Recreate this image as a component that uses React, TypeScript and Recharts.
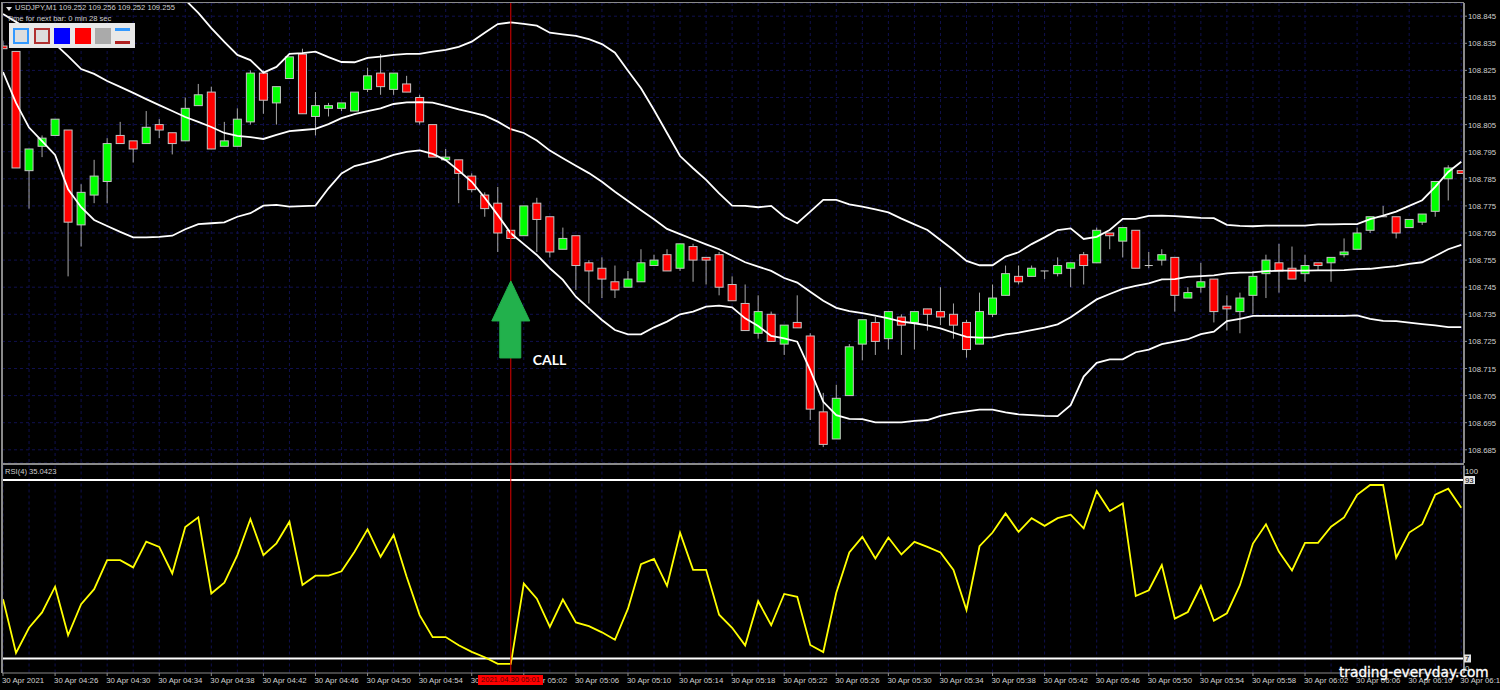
import {
  Bar,
  CartesianGrid,
  ComposedChart,
  Line,
  ReferenceDot,
  ReferenceLine,
  XAxis,
  YAxis,
} from "recharts";

// all prices are in thousandths above 108, so 834 means 108.834
const opens = [
  834, 832, 788, 797, 801, 803, 768, 779, 784, 801,
  799, 798, 805, 802, 799, 812, 817, 797, 797, 806,
  824, 813, 822, 831, 808, 811, 811, 810, 818, 824,
  818, 820, 815, 805, 792, 792, 786, 779, 776, 766,
  764, 776, 771, 759, 764, 754, 752, 747, 745, 747,
  753, 757, 752, 760, 756, 757, 746, 739, 728, 735,
  724, 732, 727, 699, 689, 705, 724, 732, 726, 734,
  732, 737, 736, 735, 732, 724, 735, 742, 749, 749,
  751, 750, 752, 757, 754, 765, 762, 766, 753, 755,
  756, 741, 745, 748, 738, 736, 742, 750, 754, 752,
  750, 754, 754, 757, 759, 766, 771, 771, 767, 769,
  773, 785, 788,
];
const closes = [
  833, 789, 796, 800, 807, 769, 780, 786, 798, 798,
  796, 804, 803, 798, 811, 816, 796, 799, 807, 824,
  814, 819, 830, 809, 812, 812, 813, 817, 823, 819,
  824, 817, 806, 793, 793, 787, 781, 774, 765, 763,
  775, 770, 758, 763, 753, 751, 748, 744, 748, 754,
  755, 751, 761, 755, 755, 745, 740, 729, 736, 725,
  731, 730, 700, 687, 704, 723, 733, 725, 736, 731,
  736, 735, 734, 731, 722, 736, 741, 750, 747, 752,
  751, 753, 754, 753, 766, 764, 767, 752, 753, 757,
  742, 743, 747, 736, 737, 741, 749, 755, 751, 748,
  753, 753, 756, 758, 765, 771, 771, 765, 770, 772,
  784, 789, 787,
];
const highs = [
  836, 832, 796, 801, 807, 803, 783, 792, 800, 806,
  799, 810, 807, 802, 815, 820, 819, 806, 811, 825,
  825, 819, 830, 833, 817, 813, 813, 817, 826, 831,
  824, 823, 816, 805, 796, 792, 787, 780, 782, 766,
  775, 778, 771, 767, 764, 755, 756, 753, 751, 759,
  757, 759, 761, 761, 756, 758, 749, 746, 742, 736,
  731, 742, 728, 706, 709, 724, 733, 734, 736, 735,
  736, 737, 745, 739, 733, 743, 746, 753, 753, 753,
  751, 756, 754, 758, 767, 765, 767, 766, 758, 759,
  756, 745, 754, 748, 742, 743, 751, 757, 761, 760,
  757, 754, 756, 763, 767, 771, 775, 771, 770, 772,
  784, 790, 788,
];
const lows = [
  833, 789, 774, 793, 801, 749, 760, 776, 776, 798,
  791, 798, 800, 794, 799, 812, 796, 797, 797, 805,
  809, 805, 822, 809, 801, 808, 810, 810, 817, 816,
  816, 817, 805, 793, 792, 776, 780, 771, 758, 763,
  764, 758, 756, 759, 744, 739, 741, 741, 745, 747,
  753, 751, 751, 747, 746, 742, 740, 729, 726, 725,
  720, 730, 696, 686, 689, 705, 718, 720, 722, 720,
  722, 729, 731, 726, 719, 724, 734, 742, 746, 749,
  748, 749, 745, 746, 754, 759, 756, 752, 752, 753,
  736, 741, 743, 732, 729, 728, 735, 741, 743, 748,
  747, 751, 747, 756, 759, 765, 771, 763, 767, 768,
  771, 777, 787,
];
// the upper band leaves the top of the pane before bar 14
const bandUpper = [
  null, null, null, null, null, null, null, null, null, null,
  null, null, null, null, 851, 846.2, 840.6, 835.5, 830.7, 828.8,
  824.2, 826.3, 831.1, 831.4, 831.9, 829.9, 828.1, 828, 829.6, 830.1,
  830.7, 831.1, 831.1, 831.9, 832.6, 833.7, 835.6, 838.9, 842.1, 842.7,
  842.2, 841.5, 838.9, 838.3, 837.7, 836.5, 834.7, 831.5, 824.9, 818.4,
  810.4, 801.9, 793.4, 788.9, 784.6, 779.6, 775.1, 775, 774.5, 775,
  771, 768.6, 772.9, 777.2, 777.2, 775.6, 774.7, 773.7, 772.6, 770.3,
  768.2, 766.1, 762.4, 758.7, 754.7, 753.1, 753.1, 756.3, 757.9, 760.9,
  763.4, 766.1, 766.7, 762.8, 763.6, 766.1, 770.2, 770.2, 771.3, 771.4,
  771.2, 770.9, 770.6, 770.5, 768, 767.6, 767.5, 767.7, 767.7, 767.7,
  767.7, 768.2, 768.2, 768.3, 768.3, 770.1, 771.4, 772.9, 775, 777.1,
  782, 787.5, 791.3,
];
const bandMiddle = [
  845.8, 842.9, 839.9, 837.3, 834.7, 830.3, 825.5, 823.7, 821.1, 818.9,
  816.7, 814.4, 812.2, 810, 807.8, 806, 804.1, 801.9, 800.8, 800.4,
  799.7, 801.2, 802.6, 803, 803.4, 805.2, 807.4, 808.9, 810, 811,
  812.6, 813.2, 813.3, 813.1, 811.9, 810.6, 809.5, 808.3, 806.1, 803.3,
  801.9, 799.1, 795.4, 792.6, 789.8, 787.1, 783.9, 780.2, 776.8, 773.4,
  770.1, 766.5, 764.6, 762.7, 760.8, 759, 756.6, 754.2, 752.6, 751,
  748.4, 746.7, 743.3, 740, 737.4, 736.2, 735.4, 734.5, 733.5, 732.3,
  731.7, 730.9, 729.8, 728.2, 726.7, 726.4, 726.5, 727.6, 728.2, 729.2,
  730.1, 731.3, 733.9, 737.2, 740.5, 742.5, 744.4, 745.5, 746.4, 747.9,
  748, 748.8, 749.1, 749.4, 750.1, 750.4, 750.5, 750.9, 751.1, 751.1,
  751.1, 751.2, 751.2, 751.3, 751.7, 751.8, 752.3, 752.8, 753.6, 754.2,
  756.5, 759, 760.6,
];
const bandLower = [
  824.4, 813, 803.9, 798.9, 793.8, 781.1, 774.5, 769.8, 767.6, 765.4,
  763.4, 763.4, 763.6, 764, 766.4, 768.3, 768.6, 768.9, 771, 772.3,
  775.1, 775.4, 774.7, 774.9, 775.1, 781.5, 787, 789.7, 790.9, 792.2,
  793.8, 794.9, 795.5, 794.2, 791.9, 788, 783.9, 778, 771.6, 764.9,
  760.9, 756.9, 752, 747.7, 741.5, 737.2, 732.9, 729.2, 727.6, 727.6,
  730.2, 732.3, 735, 736, 737.8, 738.2, 737.6, 733.5, 730.7, 727,
  726.1, 724.9, 714.4, 702.7, 697.8, 696.4, 696.3, 695.1, 695.1, 695.1,
  695.7, 696, 697.5, 698.5, 699.2, 699.8, 699.8, 698.8, 698.1, 697.8,
  697.5, 697.4, 701.5, 712, 717.1, 718.4, 718.4, 721, 722, 724,
  724.9, 725.8, 727.7, 728.6, 732.5, 733.3, 734.4, 734.4, 734.4, 734.4,
  734.4, 734.4, 734.4, 734.4, 734.6, 733.3, 732.6, 732.5, 731.9, 731.4,
  730.9, 730.3, 730.3,
];
const rsiValues = [
  35.6, 9.7, 21.8, 29.2, 41.6, 18.2, 33.2, 40.4, 54.4, 54.4,
  50.9, 63.3, 60.8, 48, 70.3, 75, 38.3, 43.5, 56.8, 74.2,
  56.8, 62.5, 72.9, 42.4, 46.9, 46.9, 49, 58.4, 69.2, 56,
  66.5, 46.4, 27.9, 17.3, 17.3, 13.4, 10.2, 7.6, 4.4, 4.4,
  43.1, 35.8, 22.2, 35.4, 24.4, 22.6, 19.6, 16, 31, 52.4,
  55, 42, 67.6, 49.7, 49.7, 28.1, 21.8, 13.3, 34.6, 23,
  38.1, 36.7, 13.5, 10.1, 38.7, 58.1, 65.6, 55.2, 65.3, 57.1,
  63.2, 60.8, 58.1, 49.7, 30.4, 61.1, 67.7, 76.9, 68, 74.6,
  70.9, 74.6, 76.3, 69.7, 87.7, 78, 81.7, 37.1, 39.9, 52,
  26.2, 29.4, 42, 25.2, 28.8, 42.3, 62.4, 71.7, 58.4, 49.4,
  62.7, 62.7, 70.5, 75, 85.9, 90.6, 90.6, 55.6, 67.7, 71.7,
  85.9, 88.8, 79.6,
];
const timeLabels = [
  "30 Apr 2021", "30 Apr 04:26", "30 Apr 04:30", "30 Apr 04:34", "30 Apr 04:38",
  "30 Apr 04:42", "30 Apr 04:46", "30 Apr 04:50", "30 Apr 04:54", "30 Apr 04:58",
  "30 Apr 05:02", "30 Apr 05:06", "30 Apr 05:10", "30 Apr 05:14", "30 Apr 05:18",
  "30 Apr 05:22", "30 Apr 05:26", "30 Apr 05:30", "30 Apr 05:34", "30 Apr 05:38",
  "30 Apr 05:42", "30 Apr 05:46", "30 Apr 05:50", "30 Apr 05:54", "30 Apr 05:58",
  "30 Apr 06:02", "30 Apr 06:06", "30 Apr 06:10", "30 Apr 06:14",
];
const priceTicks = [
  108.845, 108.835, 108.825, 108.815, 108.805, 108.795, 108.785, 108.775, 108.765,
  108.755, 108.745, 108.735, 108.725, 108.715, 108.705, 108.695, 108.685,
];
const rsiTicks = [100, 93, 7, 0];
const swatches = [
  { left: 13, fill: "#dddddd", border: "#3399ff" },
  { left: 34, fill: "#dddddd", border: "#b03030" },
  { left: 54, fill: "#0000ff", border: "#0000ff" },
  { left: 75, fill: "#ff0000", border: "#ff0000" },
  { left: 95, fill: "#aaaaaa", border: "#aaaaaa" },
];

const toPrice = (v: number | null) => (v === null ? null : 108 + v / 1000);

const candles = opens.map((o, i) => ({
  i,
  open: toPrice(o),
  close: toPrice(closes[i]),
  high: toPrice(highs[i]),
  low: toPrice(lows[i]),
  range: [toPrice(lows[i]), toPrice(highs[i])],
  upper: toPrice(bandUpper[i]),
  middle: toPrice(bandMiddle[i]),
  lower: toPrice(bandLower[i]),
  rsi: rsiValues[i],
}));

const gridTicks = candles.filter((c) => c.i % 2 === 0).map((c) => c.i);
const xDomain = [-0.077, 112.21];
const SIGNAL_BAR = 39;
const AXIS_FONT = "'Liberation Sans', sans-serif";
const AXIS_SIZE = 7.8;
const GRID = "#10104f";
const FRAME = "#8a8a8a";

const CandleShape = (props: any) => {
  const { x, y, width, height, payload } = props;
  const k = height / (payload.high - payload.low);
  const mid = x + width / 2;
  const top = y + (payload.high - Math.max(payload.open, payload.close)) * k;
  const bottom = y + (payload.high - Math.min(payload.open, payload.close)) * k;
  const up = payload.close >= payload.open;
  return (
    <g>
      <line x1={mid} x2={mid} y1={y} y2={y + height} stroke="#a8a8a8" strokeWidth={1} />
      {bottom - top < 0.5 ? (
        <line x1={mid - 4} x2={mid + 4} y1={top} y2={top} stroke="#c8c8c8" strokeWidth={1} />
      ) : (
        <rect
          x={mid - 4}
          y={top}
          width={8}
          height={bottom - top}
          fill={up ? "#00ff00" : "#ff0000"}
          stroke="#c4c4c4"
          strokeWidth={1}
        />
      )}
    </g>
  );
};

const ArrowShape = (props: any) => {
  const { cx, cy } = props;
  const pts = [
    [0, 0],
    [19, 40],
    [10, 40],
    [10, 77],
    [-11, 77],
    [-11, 40],
    [-19, 40],
  ]
    .map(([dx, dy]) => `${cx + dx},${cy + dy}`)
    .join(" ");
  return (
    <g>
      <polygon points={pts} fill="#22b14c" stroke="#22b14c" strokeLinejoin="round" />
      <text
        x={cx + 22}
        y={cy + 84}
        fill="#ffffff"
        fontFamily="Lato, sans-serif"
        fontWeight={700}
        fontSize={14}
      >
        CALL
      </text>
    </g>
  );
};

// recharts hands the tick x 8px right of the axis line
const PriceTick = (props: any) => {
  const { x, y, payload } = props;
  const axisX = x - 8;
  return (
    <g>
      <line x1={axisX} x2={axisX + 3} y1={y} y2={y} stroke={FRAME} />
      <text x={axisX + 4} y={y + 3} fill="#d0d0d0" fontSize={AXIS_SIZE} fontFamily={AXIS_FONT}>
        {payload.value.toFixed(3)}
      </text>
    </g>
  );
};

const RsiTick = (props: any) => {
  const { x, y, payload } = props;
  const axisX = x - 8;
  const v = payload.value;
  if (v === 93 || v === 7) {
    const w = v === 93 ? 11 : 7;
    return (
      <g>
        <rect x={axisX} y={y - 4} width={w} height={8} fill="#e4e4e4" />
        <text x={axisX + 1} y={y + 3} fill="#000000" fontSize={AXIS_SIZE} fontFamily={AXIS_FONT}>
          {v}
        </text>
      </g>
    );
  }
  const dy = v === 100 ? 8 : -2;
  return (
    <text x={axisX + 1} y={y + dy} fill="#d0d0d0" fontSize={AXIS_SIZE} fontFamily={AXIS_FONT}>
      {v}
    </text>
  );
};

// tick y arrives 8px under the axis line as well
const TimeTick = (props: any) => {
  const { x, y, payload } = props;
  if (payload.value % 4 !== 0) return null;
  const axisY = y - 8;
  return (
    <g>
      <line x1={x} x2={x} y1={axisY} y2={axisY + 3} stroke={FRAME} />
      <text x={x - 1} y={axisY + 10} fill="#d0d0d0" fontSize={AXIS_SIZE} fontFamily={AXIS_FONT}>
        {timeLabels[payload.value / 4]}
      </text>
    </g>
  );
};

const textStyle = {
  position: "absolute" as const,
  color: "#d0d0d0",
  fontFamily: AXIS_FONT,
  fontSize: 7.6,
  whiteSpace: "nowrap" as const,
  lineHeight: "10px",
};

export default function App() {
  return (
    <div
      style={{
        position: "fixed",
        left: 0,
        top: 0,
        width: 1500,
        height: 690,
        background: "#000000",
        overflow: "hidden",
      }}
    >
      <div style={{ position: "absolute", left: 0, top: 0 }}>
        <ComposedChart
          width={1500}
          height={465}
          data={candles}
          margin={{ top: 3, right: 0, bottom: 2, left: 2 }}
        >
          <CartesianGrid stroke={GRID} strokeDasharray="3 3" />
          <XAxis
            dataKey="i"
            type="number"
            domain={xDomain}
            ticks={gridTicks}
            allowDataOverflow
            hide
          />
          <YAxis
            orientation="right"
            width={36}
            domain={[108.68013, 108.84987]}
            ticks={priceTicks}
            interval={0}
            allowDataOverflow
            axisLine={{ stroke: FRAME, strokeWidth: 2 }}
            tickLine={false}
            tick={<PriceTick />}
          />
          <Bar dataKey="range" barSize={9} shape={<CandleShape />} isAnimationActive={false} />
          {["upper", "middle", "lower"].map((key) => (
            <Line
              key={key}
              dataKey={key}
              stroke="#ffffff"
              strokeWidth={1.8}
              dot={false}
              activeDot={false}
              connectNulls={false}
              isAnimationActive={false}
            />
          ))}
          <ReferenceLine x={SIGNAL_BAR} stroke="#e00000" strokeWidth={1} />
          <ReferenceDot x={SIGNAL_BAR} y={108.7473} shape={<ArrowShape />} />
        </ComposedChart>
      </div>

      <div style={{ position: "absolute", left: 0, top: 465 }}>
        <ComposedChart
          width={1500}
          height={225}
          data={candles}
          margin={{ top: 0.5, right: 0, bottom: 0, left: 2 }}
        >
          <CartesianGrid stroke={GRID} strokeDasharray="3 3" horizontal={false} />
          <XAxis
            dataKey="i"
            type="number"
            domain={xDomain}
            ticks={gridTicks}
            interval={0}
            height={17}
            axisLine={{ stroke: FRAME, strokeWidth: 1 }}
            tickLine={false}
            tick={<TimeTick />}
          />
          <YAxis
            orientation="right"
            width={36}
            domain={[0, 100]}
            ticks={rsiTicks}
            interval={0}
            axisLine={{ stroke: FRAME, strokeWidth: 2 }}
            tickLine={false}
            tick={<RsiTick />}
          />
          <ReferenceLine y={93} stroke="#ffffff" strokeWidth={2} />
          <ReferenceLine y={7} stroke="#ffffff" strokeWidth={2} />
          <Line
            dataKey="rsi"
            stroke="#ffff00"
            strokeWidth={1.8}
            dot={false}
            activeDot={false}
            isAnimationActive={false}
          />
          <ReferenceLine x={SIGNAL_BAR} stroke="#e00000" strokeWidth={1} />
        </ComposedChart>
      </div>

      {/* pane frame */}
      <div style={{ position: "absolute", left: 1, top: 2, width: 1463, height: 1, background: FRAME }} />
      <div style={{ position: "absolute", left: 1, top: 2, width: 2, height: 671, background: FRAME }} />
      <div style={{ position: "absolute", left: 1, top: 463, width: 1463, height: 2, background: FRAME }} />

      {/* terminal header */}
      <div
        style={{
          position: "absolute",
          left: 6,
          top: 7,
          width: 0,
          height: 0,
          borderLeft: "3px solid transparent",
          borderRight: "3px solid transparent",
          borderTop: "4px solid #e0e0e0",
        }}
      />
      <div style={{ ...textStyle, left: 15, top: 3 }}>USDJPY,M1 109.252 109.256 109.252 109.255</div>
      <div style={{ ...textStyle, left: 7, top: 14 }}>Time for next bar: 0 min 28 sec</div>
      <div style={{ ...textStyle, left: 5, top: 467 }}>RSI(4) 35.0423</div>

      {/* toolbar */}
      <div style={{ position: "absolute", left: 9, top: 23, width: 126, height: 25, background: "#e8e8e8" }}>
        {swatches.map((s) => (
          <div
            key={s.left}
            style={{
              position: "absolute",
              left: s.left - 9,
              top: 5,
              width: 12,
              height: 12,
              background: s.fill,
              border: `2px solid ${s.border}`,
            }}
          />
        ))}
        <div style={{ position: "absolute", left: 106, top: 5, width: 15, height: 3, background: "#3399ff" }} />
        <div style={{ position: "absolute", left: 106, top: 18, width: 15, height: 3, background: "#b02020" }} />
      </div>

      {/* crosshair time label */}
      <div
        style={{
          ...textStyle,
          left: 478,
          top: 675,
          width: 65,
          height: 10,
          background: "#ff0000",
          color: "#5a0000",
          textAlign: "center",
        }}
      >
        2021.04.30 05:01
      </div>

      <div
        style={{
          position: "absolute",
          left: 1339,
          top: 664,
          color: "#ffffff",
          fontFamily: "'DejaVu Sans', sans-serif",
          fontSize: 13.7,
          lineHeight: "16px",
          WebkitTextStroke: "0.3px #ffffff",
          whiteSpace: "nowrap",
        }}
      >
        trading-everyday.com
      </div>
    </div>
  );
}
